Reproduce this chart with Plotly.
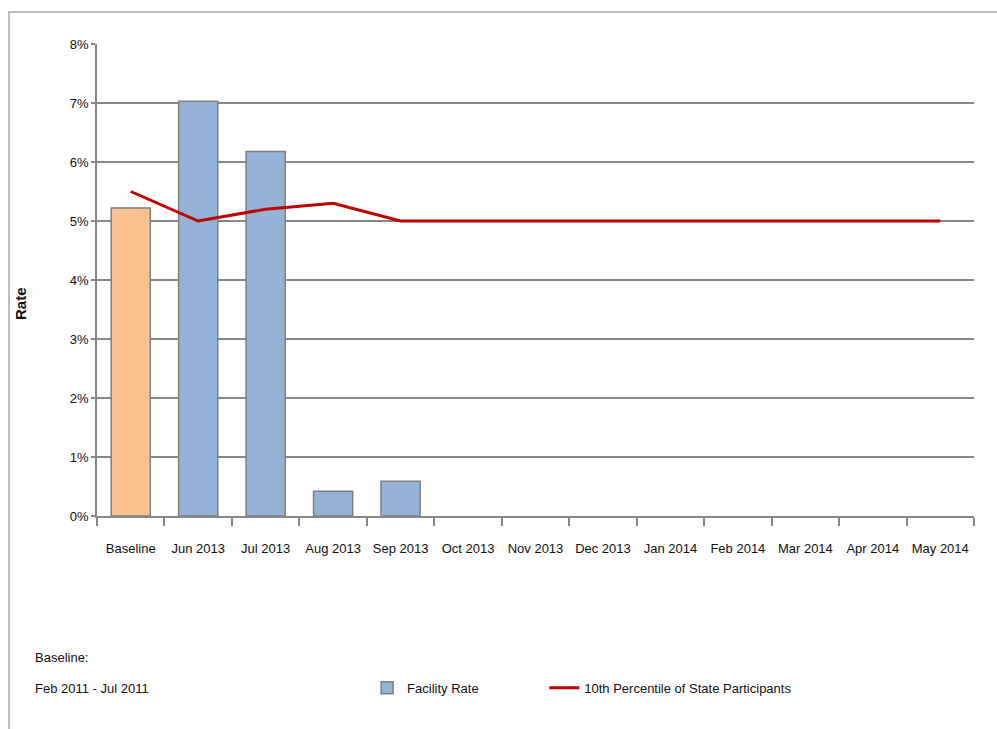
import plotly.graph_objects as go

categories = ["Baseline", "Jun 2013", "Jul 2013", "Aug 2013", "Sep 2013", "Oct 2013",
              "Nov 2013", "Dec 2013", "Jan 2014", "Feb 2014", "Mar 2014", "Apr 2014", "May 2014"]
baseline_rate = [5.22, None, None, None, None, None, None, None, None, None, None, None, None]
facility_rate = [None, 7.03, 6.18, 0.42, 0.59, None, None, None, None, None, None, None, None]
percentile_10 = [5.5, 5.0, 5.2, 5.3, 5.0, 5.0, 5.0, 5.0, 5.0, 5.0, 5.0, 5.0, 5.0]
y_ticks = [0, 1, 2, 3, 4, 5, 6, 7, 8]
y_tick_labels = ["0%", "1%", "2%", "3%", "4%", "5%", "6%", "7%", "8%"]

FONT = "Liberation Sans, Arial, sans-serif"
FS = 13
GRID = "#878787"

fig = go.Figure()
fig.add_trace(go.Bar(x=categories, y=baseline_rate, name="Baseline", showlegend=False,
                     marker=dict(color="#FAC090", line=dict(color="#7F7F7F", width=1.5)),
                     width=0.58))
fig.add_trace(go.Bar(x=categories, y=facility_rate, name="Facility Rate", legend="legend",
                     marker=dict(color="#95B3D7", line=dict(color="#7F7F7F", width=1.5)),
                     width=0.58))
fig.add_trace(go.Scatter(x=categories, y=percentile_10, mode="lines",
                         name="10th Percentile of State Participants", legend="legend2",
                         line=dict(color="#C00000", width=3)))

fig.update_layout(
    width=997, height=729,
    margin=dict(l=97, r=23, t=44, b=213),
    paper_bgcolor="white", plot_bgcolor="white",
    barmode="overlay",
    font=dict(family=FONT, size=FS, color="#111111"),
    legend=dict(orientation="h", x=0.308, y=-0.364, xanchor="left", yanchor="middle",
                font=dict(size=FS), bgcolor="rgba(0,0,0,0)"),
    legend2=dict(orientation="h", x=0.51, y=-0.364, xanchor="left", yanchor="middle",
                 font=dict(size=FS), bgcolor="rgba(0,0,0,0)"),
    xaxis=dict(type="category", tickson="boundaries", ticks="outside", ticklen=8,
               tickcolor=GRID, tickwidth=1.5, showline=True, linecolor=GRID, linewidth=2,
               showgrid=False, tickangle=0, automargin=False, ticklabelstandoff=19,
               tickfont=dict(size=FS)),
    yaxis=dict(range=[0, 8], tickvals=y_ticks, ticktext=y_tick_labels, ticks="outside",
               ticklen=4, tickcolor=GRID, tickwidth=1.5, automargin=False,
               showgrid=True, gridcolor=GRID, gridwidth=1.5, showline=True, linecolor=GRID,
               linewidth=1.5, zeroline=False, tickfont=dict(size=FS)),
    shapes=[dict(type="rect", xref="paper", yref="paper",
                 x0=(9 - 97) / 877, x1=1.1, y0=-0.6, y1=(516 - 12) / 472,
                 line=dict(color="#A6A6A6", width=1.5), layer="below")],
    annotations=[
        dict(text="<b>Rate</b>", xref="paper", yref="paper", x=(20 - 97) / 877,
             y=(516 - 304) / 472, xanchor="center", yanchor="middle", textangle=-90,
             showarrow=False, font=dict(size=15)),
        dict(text="Baseline:", xref="paper", yref="paper", x=(33 - 97) / 877, y=(516 - 658) / 472,
             xanchor="left", yanchor="middle", showarrow=False, font=dict(size=FS)),
        dict(text="Feb 2011 - Jul 2011", xref="paper", yref="paper", x=(33 - 97) / 877,
             y=(516 - 688) / 472, xanchor="left", yanchor="middle", showarrow=False,
             font=dict(size=FS)),
    ],
)

fig.write_html("out.html")
